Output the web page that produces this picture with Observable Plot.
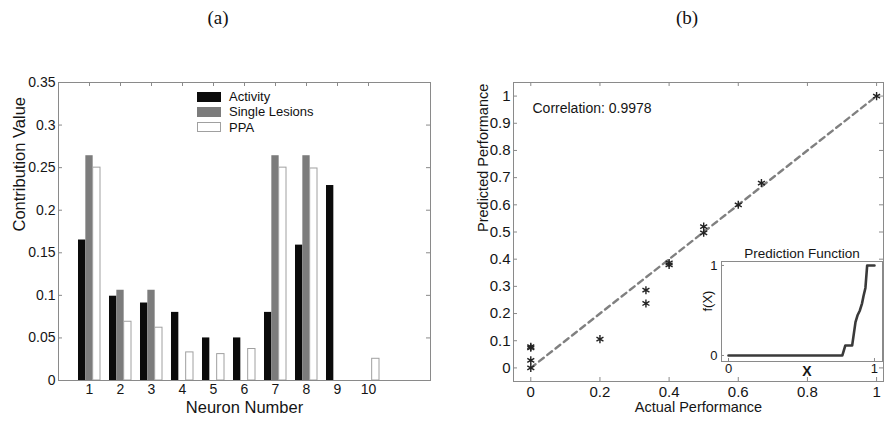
<!DOCTYPE html>
<html>
<head>
<meta charset="utf-8">
<script src="https://cdn.jsdelivr.net/npm/d3@7"></script>
<script src="https://cdn.jsdelivr.net/npm/@observablehq/plot@0.6"></script>
<style>
  html, body { margin: 0; padding: 0; background: #fff; }
  #fig { position: relative; width: 884px; height: 421px; background: #fff; overflow: hidden; font-family: "Liberation Sans", Arial, sans-serif; }
  #fig > * { position: absolute; }
  .ptitle { font-family: "Liberation Serif", "Times New Roman", serif; font-size: 19px; color: #111; transform: translateX(-50%); }
  .legend { font-size: 13px; color: #111; line-height: 15.3px; }
  .legend .row { display: flex; align-items: center; height: 15.3px; }
  .legend .sw { width: 24px; height: 10px; box-sizing: border-box; margin-right: 8px; }
</style>
</head>
<body>
<div id="fig"></div>
<script>
// ---------- data: panel (a) ----------
const neurons = [1, 2, 3, 4, 5, 6, 7, 8, 9, 10];
const activity = [0.165, 0.099, 0.091, 0.080, 0.050, 0.050, 0.080, 0.159, 0.229, 0];
const singleLesions = [0.264, 0.106, 0.106, 0, 0, 0, 0.264, 0.264, 0, 0];
const ppa = [0.250, 0.069, 0.062, 0.033, 0.031, 0.037, 0.250, 0.249, 0, 0.0255];
const seriesNames = ["Activity", "Single Lesions", "PPA"];
const yTicksA = [0, 0.05, 0.1, 0.15, 0.2, 0.25, 0.3, 0.35];
const xLabelA = "Neuron Number";
const yLabelA = "Contribution Value";

// ---------- data: panel (b) ----------
const actualPerf = [0, 0, 0, 0, 0.2, 0.333, 0.333, 0.4, 0.4, 0.5, 0.5, 0.6, 0.667, 1];
const predictedPerf = [0.078, 0.074, 0.028, 0.0, 0.106, 0.286, 0.237, 0.379, 0.386, 0.52, 0.497, 0.6, 0.68, 1.0];
const diagonal = [0, 1];
const xTicksB = [0, 0.2, 0.4, 0.6, 0.8, 1];
const yTicksB = [0, 0.1, 0.2, 0.3, 0.4, 0.5, 0.6, 0.7, 0.8, 0.9, 1];
const xLabelB = "Actual Performance";
const yLabelB = "Predicted Performance";
const correlationLabel = "Correlation: 0.9978";

// ---------- data: inset ----------
const fnX = [0, 0.78, 0.80, 0.847, 0.87, 0.885, 0.90, 0.915, 0.925, 0.938, 0.95, 1.0];
const fnY = [0, 0, 0.11, 0.11, 0.37, 0.45, 0.5, 0.58, 0.66, 0.75, 1.0, 1.0];
const insetTicks = [0, 1];
const insetTitle = "Prediction Function";
const insetYLabel = "f(X)";
const insetXLabel = "X";

const panelTitles = ["(a)", "(b)"];

// ---------- styles ----------
const FRAME = "#8a8a8a";
const INK = "#151515";
const colors = ["#0b0b0b", "#7c7c7c", "#ffffff"];
const ppaStroke = "#a0a0a0";
const fmt = d3.format("~g");

const fig = document.getElementById("fig");

// titles
panelTitles.forEach((t, i) => {
  const d = document.createElement("div");
  d.className = "ptitle";
  d.textContent = t;
  d.style.left = (i === 0 ? 218 : 687) + "px";
  d.style.top = "7px";
  fig.appendChild(d);
});

// ---------- panel (a) ----------
const A = {width: 442, height: 421, ml: 58, mr: 12, mt: 82, mb: 41};
const fwA = A.width - A.ml - A.mr, fhA = A.height - A.mt - A.mb;
const groupW = 0.71, bw = groupW / 3;
const seriesVals = [activity, singleLesions, ppa];
const barsBySeries = seriesVals.map((vals, i) =>
  neurons.map((n, j) => ({neuron: n, value: vals[j], i, series: seriesNames[i]})));
const x1f = d => d.neuron - groupW / 2 + d.i * bw;
const x2f = d => d.neuron - groupW / 2 + (d.i + 1) * bw;

const plotA = Plot.plot({
  width: A.width, height: A.height,
  marginLeft: A.ml, marginRight: A.mr, marginTop: A.mt, marginBottom: A.mb,
  x: {type: "linear", domain: [0, 12]},
  y: {domain: [0, 0.35]},
  style: {fontFamily: "'Liberation Sans', Arial, sans-serif", fontSize: "14px", color: INK, background: "transparent", overflow: "visible"},
  marks: [
    Plot.rect(barsBySeries[0], {x1: x1f, x2: x2f, y1: () => 0, y2: "value", fill: colors[0]}),
    Plot.rect(barsBySeries[1], {x1: x1f, x2: x2f, y1: () => 0, y2: "value", fill: colors[1]}),
    Plot.rect(barsBySeries[2], {x1: x1f, x2: x2f, y1: () => 0, y2: "value", fill: colors[2], stroke: ppaStroke, strokeWidth: 1}),
    Plot.frame({stroke: FRAME}),
    Plot.tickY(yTicksA, {y: d => d, insetRight: fwA - 4, stroke: FRAME}),
    Plot.tickY(yTicksA, {y: d => d, insetLeft: fwA - 4, stroke: FRAME}),
    Plot.tickX(neurons, {x: d => d, insetBottom: fhA - 4, stroke: FRAME}),
    Plot.axisY({ticks: yTicksA, tickSize: 0, tickPadding: 3, tickFormat: fmt, label: null}),
    Plot.axisX({ticks: neurons, tickSize: 0, tickPadding: 4, tickFormat: d => String(d), label: null}),
    Plot.text([xLabelA], {text: d => d, frameAnchor: "bottom", dy: 27, lineAnchor: "middle", fontSize: 16.5, fill: INK}),
    Plot.text([yLabelA], {text: d => d, frameAnchor: "left", dx: -39, rotate: -90, lineAnchor: "middle", fontSize: 16.5, fill: INK})
  ]
});
plotA.style.left = "0px"; plotA.style.top = "0px";
fig.appendChild(plotA);

// legend (HTML)
const leg = document.createElement("div");
leg.className = "legend";
leg.style.left = "197px"; leg.style.top = "89px";
seriesNames.forEach((name, i) => {
  const row = document.createElement("div");
  row.className = "row";
  const sw = document.createElement("div");
  sw.className = "sw";
  sw.style.background = colors[i];
  if (i === 2) sw.style.border = "1px solid " + ppaStroke;
  const tx = document.createElement("span");
  tx.textContent = name;
  row.appendChild(sw); row.appendChild(tx);
  leg.appendChild(row);
});
fig.appendChild(leg);

// ---------- panel (b) ----------
const B = {width: 442, height: 421, ml: 71, mr: 1, mt: 82, mb: 40};
const fwB = B.width - B.ml - B.mr, fhB = B.height - B.mt - B.mb;
const pts = actualPerf.map((a, i) => ({a, p: predictedPerf[i]}));
const diag = diagonal.map(v => ({a: v, p: v}));

const plotB = Plot.plot({
  width: B.width, height: B.height,
  marginLeft: B.ml, marginRight: B.mr, marginTop: B.mt, marginBottom: B.mb,
  x: {domain: [-0.05, 1.02]},
  y: {domain: [-0.05, 1.05]},
  style: {fontFamily: "'Liberation Sans', Arial, sans-serif", fontSize: "15px", color: INK, background: "transparent", overflow: "visible"},
  marks: [
    Plot.frame({stroke: FRAME}),
    Plot.tickY(yTicksB, {y: d => d, insetRight: fwB - 4, stroke: FRAME}),
    Plot.tickY(yTicksB, {y: d => d, insetLeft: fwB - 4, stroke: FRAME}),
    Plot.tickX(xTicksB, {x: d => d, insetBottom: fhB - 4, stroke: FRAME}),
    Plot.tickX(xTicksB, {x: d => d, insetTop: fhB - 4, stroke: FRAME}),
    Plot.line(diag, {x: "a", y: "p", stroke: "#808080", strokeWidth: 2.4, strokeDasharray: "6,4.5"}),
    Plot.dot(pts, {x: "a", y: "p", symbol: "asterisk", r: 3.8, stroke: "#222", strokeWidth: 1.4}),
    Plot.axisY({ticks: yTicksB, tickSize: 0, tickPadding: 3, tickFormat: fmt, label: null}),
    Plot.axisX({ticks: xTicksB, tickSize: 0, tickPadding: 5, tickFormat: fmt, label: null}),
    Plot.text([correlationLabel], {text: d => d, frameAnchor: "top-left", dx: 19, dy: 26, textAnchor: "start", lineAnchor: "middle", fontSize: 14, fill: INK}),
    Plot.text([xLabelB], {text: d => d, frameAnchor: "bottom", dy: 26, lineAnchor: "middle", fontSize: 14.5, fill: INK}),
    Plot.text([yLabelB], {text: d => d, frameAnchor: "left", dx: -30, rotate: -90, lineAnchor: "middle", fontSize: 14.5, fill: INK})
  ]
});
plotB.style.left = "442px"; plotB.style.top = "0px";
fig.appendChild(plotB);

// ---------- inset ----------
const I = {left: 690, top: 240, width: 194, height: 140, ml: 31, mr: 2, mt: 21, mb: 19};
const fwI = I.width - I.ml - I.mr, fhI = I.height - I.mt - I.mb;
const fn = fnX.map((x, i) => ({x, y: fnY[i]}));
const plotI = Plot.plot({
  width: I.width, height: I.height,
  marginLeft: I.ml, marginRight: I.mr, marginTop: I.mt, marginBottom: I.mb,
  x: {domain: [-0.048, 1.055]},
  y: {domain: [-0.067, 1.044]},
  style: {fontFamily: "'Liberation Sans', Arial, sans-serif", fontSize: "13px", color: INK, background: "transparent", overflow: "visible"},
  marks: [
    Plot.frame({fill: "#fff", stroke: FRAME}),
    Plot.tickY(insetTicks, {y: d => d, insetRight: fwI - 3, stroke: FRAME}),
    Plot.tickX(insetTicks, {x: d => d, insetTop: fhI - 3, stroke: FRAME}),
    Plot.line(fn, {x: "x", y: "y", stroke: "#3a3a3a", strokeWidth: 2.6}),
    Plot.axisY({ticks: insetTicks, tickSize: 0, tickPadding: 4, tickFormat: fmt, label: null}),
    Plot.axisX({ticks: insetTicks, tickSize: 0, tickPadding: 2, tickFormat: fmt, label: null}),
    Plot.text([insetTitle], {text: d => d, frameAnchor: "top", dy: -8, lineAnchor: "middle", fontSize: 13.5, fill: INK}),
    Plot.text([insetYLabel], {text: d => d, frameAnchor: "left", dx: -14, rotate: -90, lineAnchor: "middle", fontSize: 13, fill: INK}),
    Plot.text([insetXLabel], {text: d => d, frameAnchor: "bottom", dx: 5, dy: 10, lineAnchor: "middle", fontSize: 14, fontWeight: "bold", fill: INK})
  ]
});
plotI.style.left = I.left + "px"; plotI.style.top = I.top + "px";
fig.appendChild(plotI);
</script>
</body>
</html>
